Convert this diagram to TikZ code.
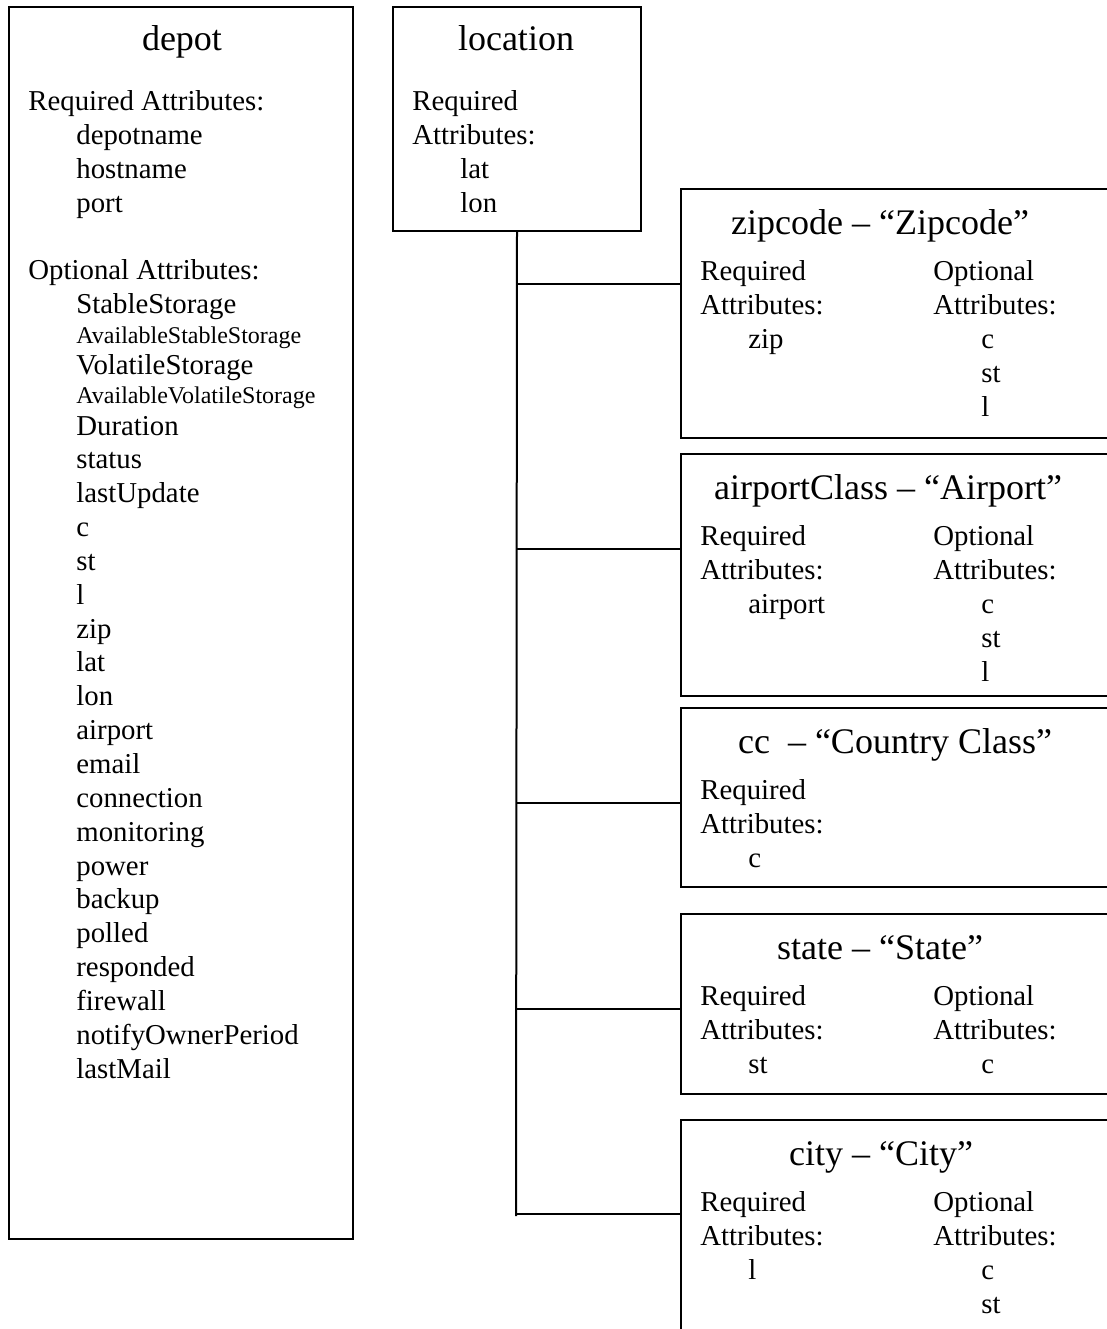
\documentclass[tikz,border=0pt]{standalone}
\usepackage{fontspec}
\setmainfont{Liberation Serif}
\begin{document}
\begin{tikzpicture}[x=0.5pt,y=-0.5pt,
  box/.style={draw,line width=1pt,inner sep=0pt,anchor=north west},
  ttl/.style={anchor=base,inner sep=0pt,font=\fontsize{18}{20}\selectfont},
  txt/.style={anchor=base west,inner sep=0pt,font=\fontsize{14.4}{16}\selectfont},
  sml/.style={anchor=base west,inner sep=0pt,font=\fontsize{12}{14}\selectfont},
  link/.style={line width=1pt}]
\useasboundingbox (0,0) rectangle (1107,1329);
\clip (0,0) rectangle (1107,1329);

% class boxes
\node[box,minimum width=172pt,minimum height=616pt] (depot) at (8,6) {};
\node[box,minimum width=124pt,minimum height=112pt] (loc) at (392,6) {};
\node[box,minimum width=220pt,minimum height=124.5pt] (zip) at (680,188) {};
\node[box,minimum width=220pt,minimum height=121pt] (air) at (680,453) {};
\node[box,minimum width=220pt,minimum height=89.5pt] (cc) at (680,707) {};
\node[box,minimum width=220pt,minimum height=90pt] (st) at (680,913) {};
\node[box,minimum width=220pt,minimum height=113pt] (city) at (680,1119) {};

% depot
\node[ttl] (depot-t) at (182,50) {depot};
\node[txt] (depot-req) at (28,110) {Required Attributes:};
\foreach \t/\y [count=\i] in {depotname/144,hostname/178,port/212}
  \node[txt] (depot-r\i) at (76,\y) {\t};
\node[txt] (depot-opt) at (28,279) {Optional Attributes:};
\node[txt] (depot-o1) at (76,313) {StableStorage};
\node[sml] (depot-o2) at (76,343) {AvailableStableStorage};
\node[txt] (depot-o3) at (76,374) {VolatileStorage};
\node[sml] (depot-o4) at (76,403) {AvailableVolatileStorage};
\foreach \t [count=\i from 0] in {Duration,status,lastUpdate,c,st,l,
    zip,lat,lon,airport,email,connection,monitoring,
    power,backup,polled,responded,firewall,
    notifyOwnerPeriod,lastMail}
  \node[txt] (depot-p\i) at (76,{435+33.85*\i}) {\t};

% location
\node[ttl] (loc-t) at (516,50) {location};
\node[txt] (loc-r1) at (412,110) {Required};
\node[txt] (loc-r2) at (412,144) {Attributes:};
\node[txt] (loc-r3) at (460,178) {lat};
\node[txt] (loc-r4) at (460,212) {lon};

% zipcode
\node[ttl] (zip-t) at (880,234) {zipcode – “Zipcode”};
\node[txt] (zip-r1) at (700,280) {Required};
\node[txt] (zip-r2) at (700,314) {Attributes:};
\node[txt] (zip-r3) at (748,348) {zip};
\node[txt] (zip-o1) at (933,280) {Optional};
\node[txt] (zip-o2) at (933,314) {Attributes:};
\node[txt] (zip-o3) at (981,348) {c};
\node[txt] (zip-o4) at (981,382) {st};
\node[txt] (zip-o5) at (981,416) {l};

% airportClass
\node[ttl] (air-t) at (888,499) {airportClass – “Airport”};
\node[txt] (air-r1) at (700,545) {Required};
\node[txt] (air-r2) at (700,579) {Attributes:};
\node[txt] (air-r3) at (748,613) {airport};
\node[txt] (air-o1) at (933,545) {Optional};
\node[txt] (air-o2) at (933,579) {Attributes:};
\node[txt] (air-o3) at (981,613) {c};
\node[txt] (air-o4) at (981,647) {st};
\node[txt] (air-o5) at (981,681) {l};

% cc
\node[ttl] (cc-t) at (895,753) {cc~ – “Country Class”};
\node[txt] (cc-r1) at (700,799) {Required};
\node[txt] (cc-r2) at (700,833) {Attributes:};
\node[txt] (cc-r3) at (748,867) {c};

% state
\node[ttl] (st-t) at (880,959) {state – “State”};
\node[txt] (st-r1) at (700,1005) {Required};
\node[txt] (st-r2) at (700,1039) {Attributes:};
\node[txt] (st-r3) at (748,1073) {st};
\node[txt] (st-o1) at (933,1005) {Optional};
\node[txt] (st-o2) at (933,1039) {Attributes:};
\node[txt] (st-o3) at (981,1073) {c};

% city
\node[ttl] (city-t) at (881,1165) {city – “City”};
\node[txt] (city-r1) at (700,1211) {Required};
\node[txt] (city-r2) at (700,1245) {Attributes:};
\node[txt] (city-r3) at (748,1279) {l};
\node[txt] (city-o1) at (933,1211) {Optional};
\node[txt] (city-o2) at (933,1245) {Attributes:};
\node[txt] (city-o3) at (981,1279) {c};
\node[txt] (city-o4) at (981,1313) {st};

% connectors: trunk from location, with a branch to each subclass
\coordinate (trunk-end) at (516,1216);
\coordinate (j1) at (516,284);
\coordinate (j2) at (516,549);
\coordinate (j3) at (516,803);
\coordinate (j4) at (516,1009);
\coordinate (j5) at (516,1214);
\draw[link] (loc.south) -- (trunk-end);
\draw[link] (j1) -- (j1 -| zip.west);
\draw[link] (j2) -- (j2 -| air.west);
\draw[link] (j3) -- (j3 -| cc.west);
\draw[link] (j4) -- (j4 -| st.west);
\draw[link] (j5) -- (j5 -| city.west);
\end{tikzpicture}
\end{document}
